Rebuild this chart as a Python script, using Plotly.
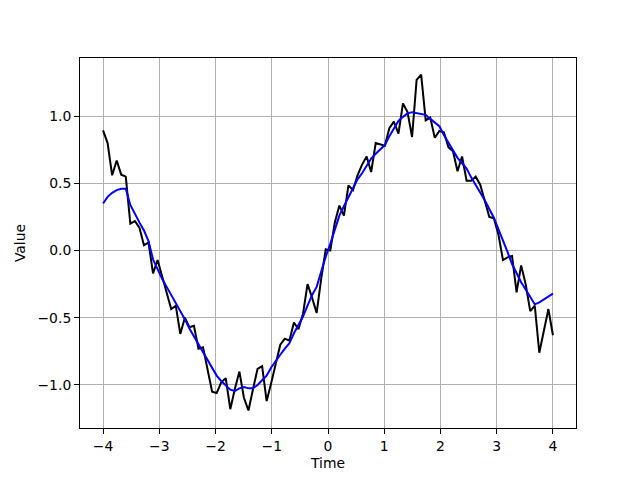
import numpy as np
import plotly.graph_objects as go

time = np.linspace(-4, 4, 100)

noisy = [0.895, 0.80, 0.56, 0.67, 0.565, 0.55, 0.20, 0.22, 0.17, 0.04,
         0.06, -0.17, -0.07, -0.19, -0.32, -0.435, -0.41, -0.62, -0.50, -0.57,
         -0.56, -0.73, -0.72, -0.89, -1.05, -1.06, -0.98, -0.95, -1.18, -1.03,
         -0.90, -1.095, -1.19, -1.03, -0.88, -0.86, -1.12, -0.985, -0.84, -0.70,
         -0.655, -0.67, -0.535, -0.585, -0.47, -0.25, -0.35, -0.465, -0.21, 0.01,
         0.00, 0.21, 0.335, 0.26, 0.485, 0.45, 0.56, 0.64, 0.70, 0.585,
         0.80, 0.79, 0.78, 0.91, 0.96, 0.87, 1.095, 1.03, 0.845, 1.27,
         1.31, 0.97, 0.99, 0.84, 0.89, 0.88, 0.77, 0.74, 0.59, 0.70,
         0.52, 0.52, 0.55, 0.49, 0.37, 0.25, 0.24, 0.12, -0.07, -0.05,
         -0.04, -0.31, -0.11, -0.25, -0.45, -0.41, -0.76, -0.60, -0.435, -0.63]

smoothed = [0.35, 0.40, 0.43, 0.45, 0.46, 0.46, 0.34, 0.27, 0.21, 0.15,
            0.07, -0.065, -0.14, -0.21, -0.27, -0.33, -0.39, -0.445, -0.51, -0.58,
            -0.64, -0.70, -0.76, -0.82, -0.88, -0.93, -0.97, -1.00, -1.035, -1.045,
            -1.025, -1.015, -1.025, -1.025, -1.00, -0.965, -0.93, -0.87, -0.82, -0.775,
            -0.73, -0.69, -0.615, -0.555, -0.49, -0.41, -0.33, -0.27, -0.155, -0.045,
            0.05, 0.165, 0.26, 0.33, 0.40, 0.47, 0.53, 0.575, 0.63, 0.685,
            0.72, 0.75, 0.785, 0.85, 0.91, 0.965, 0.995, 1.02, 1.03, 1.025,
            1.02, 1.01, 0.98, 0.955, 0.925, 0.86, 0.80, 0.75, 0.69, 0.65,
            0.61, 0.545, 0.49, 0.44, 0.375, 0.31, 0.245, 0.16, 0.08, -0.01,
            -0.10, -0.17, -0.235, -0.29, -0.35, -0.40, -0.385, -0.365, -0.345, -0.32]

x_ticks = [-4, -3, -2, -1, 0, 1, 2, 3, 4]
x_tick_labels = ["\u22124", "\u22123", "\u22122", "\u22121", "0", "1", "2", "3", "4"]
y_ticks = [-1.0, -0.5, 0.0, 0.5, 1.0]
y_tick_labels = ["\u22121.0", "\u22120.5", "0.0", "0.5", "1.0"]

fig = go.Figure()
fig.add_trace(go.Scatter(x=time, y=noisy, mode="lines",
                         line=dict(color="black", width=2), name="Noisy"))
fig.add_trace(go.Scatter(x=time, y=smoothed, mode="lines",
                         line=dict(color="#0000ff", width=2), name="Smoothed"))

font_main = dict(family="DejaVu Sans", size=13.9, color="black")
axis_common = dict(showline=True, linecolor="black", linewidth=1, mirror=True,
                   ticks="outside", ticklen=5, tickcolor="black", tickwidth=1,
                   showgrid=True, gridcolor="#b0b0b0", gridwidth=1,
                   zeroline=False, tickfont=font_main, title_font=font_main)

fig.update_xaxes(range=[-4.41, 4.41], tickvals=x_ticks, ticktext=x_tick_labels,
                 title_text="Time", title_standoff=5, **axis_common)
fig.update_yaxes(range=[-1.32, 1.433], tickvals=y_ticks, ticktext=y_tick_labels,
                 title_text="Value", title_standoff=8, **axis_common)

# page body has an 8px margin, so shrink the figure to keep the matplotlib-like frame
fig.update_layout(width=632, height=472, showlegend=False,
                  margin=dict(l=72, r=64, t=50, b=45),
                  paper_bgcolor="white", plot_bgcolor="white",
                  font=font_main)

fig.write_html("out.html")
